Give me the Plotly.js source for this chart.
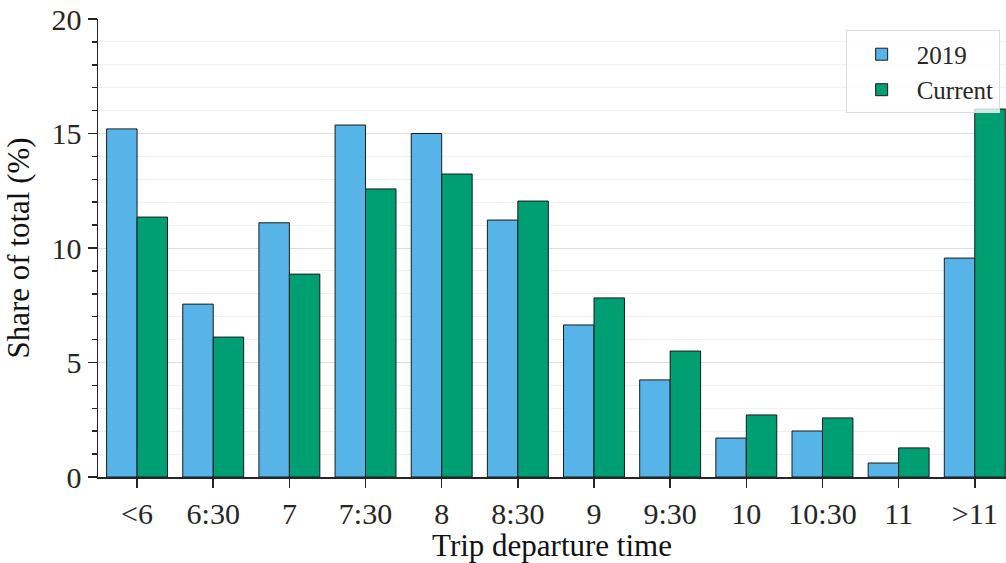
<!DOCTYPE html>
<html>
<head>
<meta charset="utf-8">
<script src="https://cdn.plot.ly/plotly-3.0.1.min.js"></script>
<style>html,body{margin:0;padding:0;background:#fff;}#chart{width:1006px;height:563px;}</style>
</head>
<body>
<div id="chart"></div>
<script>
var categories = ['<6', '6:30', '7', '7:30', '8', '8:30', '9', '9:30', '10', '10:30', '11', '>11'];
var values2019 = [15.2, 7.55, 11.1, 15.37, 15.0, 11.22, 6.64, 4.24, 1.70, 2.01, 0.61, 9.56];
var valuesCurrent = [11.35, 6.11, 8.86, 12.58, 13.23, 12.05, 7.82, 5.50, 2.71, 2.58, 1.27, 16.07];
var seriesNames = ['2019', 'Current'];

var fontFam = '"Liberation Serif", "Times New Roman", serif';
var traces = [
  {type: 'bar', name: seriesNames[0], x: categories, y: values2019,
   marker: {color: '#56B4E9', line: {color: '#1a1a1a', width: 1}}},
  {type: 'bar', name: seriesNames[1], x: categories, y: valuesCurrent,
   marker: {color: '#009E73', line: {color: '#1a1a1a', width: 1}}}
];
var layout = {
  width: 1006, height: 563,
  margin: {l: 98, r: 0, t: 19, b: 86, pad: 0},
  paper_bgcolor: '#fff', plot_bgcolor: '#fff',
  barmode: 'group', bargap: 0.2, bargroupgap: 0,
  font: {family: fontFam, color: '#262626'},
  showlegend: true,
  legend: {x: 0.993, xanchor: 'right', y: 0.975, yanchor: 'top',
           itemwidth: 60, tracegroupgap: 0,
           bgcolor: 'rgba(255,255,255,0.8)', bordercolor: '#dddddd', borderwidth: 1,
           font: {size: 25, family: fontFam, color: '#262626'}},
  xaxis: {
    type: 'category', range: [-0.513, 11.41],
    showline: true, linecolor: '#262626', linewidth: 1.5,
    ticks: 'outside', ticklen: 9, tickwidth: 1.5, tickcolor: '#262626',
    showgrid: false, zeroline: false,
    tickfont: {size: 30, family: fontFam, color: '#262626'},
    title: {text: 'Trip departure time', font: {size: 31, family: fontFam, color: '#111'}, standoff: 6}
  },
  yaxis: {
    range: [0, 20], tickvals: [0, 5, 10, 15, 20],
    showline: true, linecolor: '#262626', linewidth: 1.5,
    ticks: 'outside', ticklen: 9, tickwidth: 1.5, tickcolor: '#262626',
    showgrid: true, gridcolor: '#dedede', gridwidth: 1, zeroline: false,
    minor: {dtick: 1, ticks: 'outside', ticklen: 5, tickwidth: 1.5, tickcolor: '#262626',
            showgrid: true, gridcolor: '#f0f0f0', gridwidth: 1},
    tickfont: {size: 30, family: fontFam, color: '#262626'},
    title: {text: 'Share of total (%)', font: {size: 31, family: fontFam, color: '#111'}, standoff: 12}
  }
};
Plotly.newPlot('chart', traces, layout, {displayModeBar: false, staticPlot: true});
</script>
</body>
</html>
